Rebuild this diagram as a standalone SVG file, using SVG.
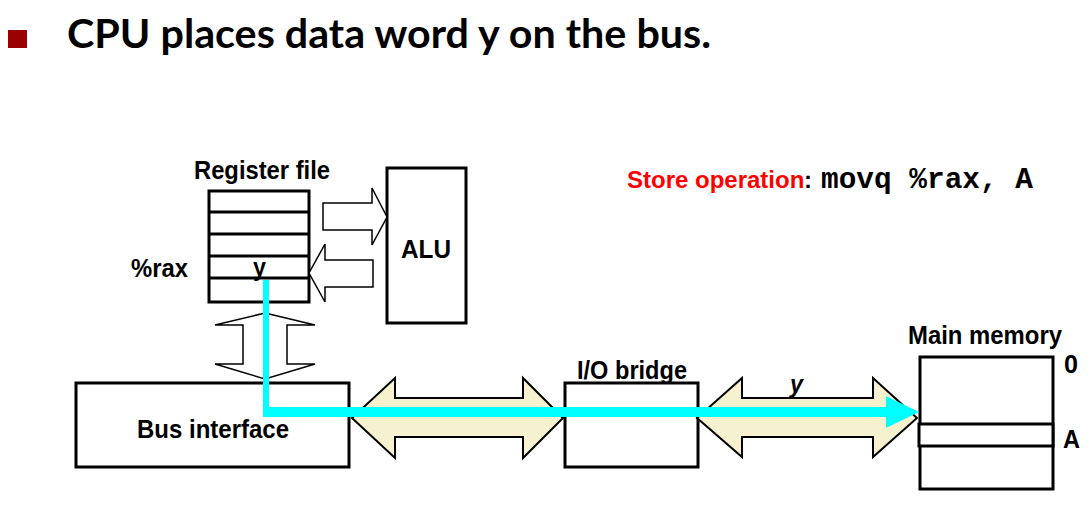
<svg xmlns="http://www.w3.org/2000/svg" width="1091" height="510" viewBox="0 0 1091 510">
<style>
.lbl{font-family:"Liberation Sans",Arial,sans-serif;font-weight:bold;font-size:26px;fill:#000}
.box{fill:#fff;stroke:#000;stroke-width:3}
.warr{fill:#fff;stroke:#000;stroke-width:1.5;stroke-linejoin:miter}
.carr{fill:#F6F2CF;stroke:#000;stroke-width:2;stroke-linejoin:miter}
.cyan{stroke:#00FFFF;fill:none}
</style>
<rect width="1091" height="510" fill="#fff"/>
<g id="title">
<rect x="8" y="30" width="19" height="18" fill="#9B0000"/>
<text x="67" y="48" font-family="Lato,'Open Sans',sans-serif" font-weight="bold" font-size="40" textLength="644" lengthAdjust="spacingAndGlyphs">CPU places data word y on the bus.</text>
</g>
<g id="store-op">
<text x="627" y="188" class="lbl" style="font-size:24px;fill:#FF0000">Store operation</text>
<text x="804" y="188" class="lbl" style="font-size:24px">:</text>
<text x="821" y="188" font-family="'Liberation Mono','Courier New',monospace" font-weight="bold" font-size="29" textLength="212" lengthAdjust="spacingAndGlyphs">movq %rax, A</text>
</g>
<g id="register-file">
<text x="194" y="179" class="lbl" textLength="136" lengthAdjust="spacingAndGlyphs">Register file</text>
<rect class="box" x="209" y="191" width="100" height="111"/>
<line x1="209" y1="212" x2="309" y2="212" stroke="#000" stroke-width="3"/>
<line x1="209" y1="234" x2="309" y2="234" stroke="#000" stroke-width="3"/>
<line x1="209" y1="256" x2="309" y2="256" stroke="#000" stroke-width="3"/>
<line x1="209" y1="278" x2="309" y2="278" stroke="#000" stroke-width="3"/>
<text x="253" y="276" class="lbl" textLength="13" lengthAdjust="spacingAndGlyphs">y</text>
<text x="131" y="277" class="lbl" textLength="57" lengthAdjust="spacingAndGlyphs">%rax</text>
</g>
<g id="alu">
<rect class="box" x="387" y="168" width="79" height="155"/>
<text x="401" y="258" class="lbl" textLength="50" lengthAdjust="spacingAndGlyphs">ALU</text>
</g>
<g id="bus-interface">
<rect class="box" x="76" y="383" width="273" height="84"/>
<text x="137" y="438" class="lbl" textLength="152" lengthAdjust="spacingAndGlyphs">Bus interface</text>
</g>
<g id="io-bridge">
<rect class="box" x="565" y="383" width="133" height="84"/>
<text x="577" y="379" class="lbl" textLength="110" lengthAdjust="spacingAndGlyphs">I/O bridge</text>
</g>
<g id="main-memory">
<text x="908" y="344" class="lbl" textLength="154" lengthAdjust="spacingAndGlyphs">Main memory</text>
<rect class="box" x="920" y="357" width="133" height="132"/>
<rect class="box" x="919" y="424" width="134" height="22"/>
<text x="1064" y="373" class="lbl" textLength="14" lengthAdjust="spacingAndGlyphs">0</text>
<text x="1063" y="448" class="lbl" textLength="17" lengthAdjust="spacingAndGlyphs">A</text>
</g>
<g id="connectors">
<polygon class="warr" points="323,203 372,203 372,188 387,217 372,245 372,230 323,230"/>
<polygon class="warr" points="373,260 325,260 325,244 309,273 325,302 325,287 373,287"/>
<polygon class="warr" points="265,313 315,325 287,325 287,364 315,364 265,379 215,364 243,364 243,325 215,325"/>
<polygon class="carr" points="352,418 395,378 395,398 523,398 523,378 563,418 523,458 523,437 395,437 395,458"/>
<polygon class="carr" points="697,418 742,378 742,398 873,398 873,378 917,418 873,457 873,437 742,437 742,457"/>
<text x="790" y="393" class="lbl" font-style="italic" textLength="13" lengthAdjust="spacingAndGlyphs">y</text>
<line class="cyan" x1="266" y1="280" x2="266" y2="417" stroke-width="6"/>
<line class="cyan" x1="263" y1="412" x2="888" y2="412" stroke-width="10"/>
<polygon points="886,396 919,412 886,428" fill="#00FFFF"/>
</g>
</svg>
